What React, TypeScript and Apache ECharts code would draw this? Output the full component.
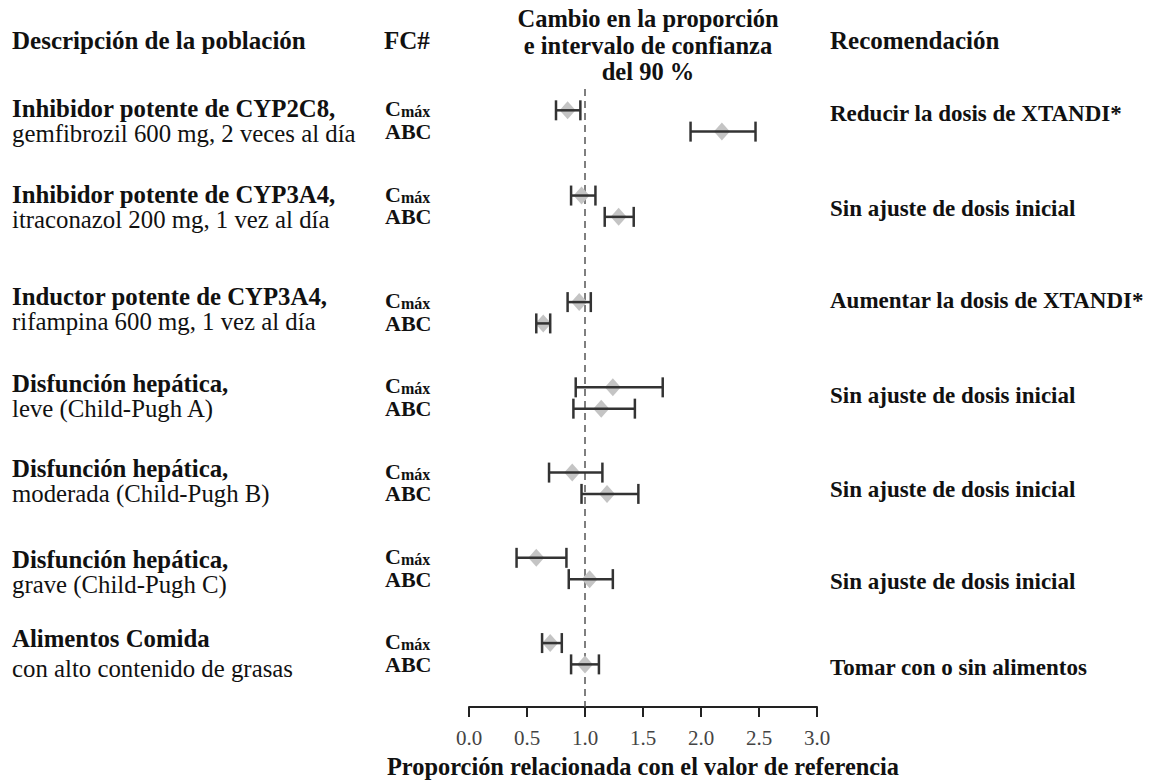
import React, { useEffect, useRef } from 'react';
import * as echarts from 'echarts';

const SERIF = '"Liberation Serif", "Times New Roman", "DejaVu Serif", serif';

// Population groups (left column) and recommendation (right column)
const groupTitles = [
  'Inhibidor potente de CYP2C8,',
  'Inhibidor potente de CYP3A4,',
  'Inductor potente de CYP3A4,',
  'Disfunción hepática,',
  'Disfunción hepática,',
  'Disfunción hepática,',
  'Alimentos Comida',
];
const groupDetails = [
  'gemfibrozil 600 mg, 2 veces al día',
  'itraconazol 200 mg, 1 vez al día',
  'rifampina 600 mg, 1 vez al día',
  'leve (Child-Pugh A)',
  'moderada (Child-Pugh B)',
  'grave (Child-Pugh C)',
  'con alto contenido de grasas',
];
const recommendations = [
  'Reducir la dosis de XTANDI*',
  'Sin ajuste de dosis inicial',
  'Aumentar la dosis de XTANDI*',
  'Sin ajuste de dosis inicial',
  'Sin ajuste de dosis inicial',
  'Sin ajuste de dosis inicial',
  'Tomar con o sin alimentos',
];

// Ratio and 90 % confidence interval, Cmáx
const cmaxEst = [0.85, 0.97, 0.95, 1.24, 0.89, 0.58, 0.70];
const cmaxLo = [0.75, 0.88, 0.85, 0.92, 0.69, 0.41, 0.63];
const cmaxHi = [0.96, 1.09, 1.05, 1.67, 1.15, 0.84, 0.80];
// Ratio and 90 % confidence interval, ABC
const abcEst = [2.18, 1.29, 0.64, 1.14, 1.19, 1.04, 1.00];
const abcLo = [1.91, 1.17, 0.58, 0.90, 0.97, 0.86, 0.88];
const abcHi = [2.47, 1.42, 0.70, 1.43, 1.46, 1.24, 1.12];

const referenceRatio = 1.0;
const xMin = 0;
const xMax = 3;
const xStep = 0.5;

// Blank row slots placed before each Cmáx/ABC pair and after the last one
const gapsBefore = [1, 2, 3, 2, 2, 2, 2];
const gapsAfter = 2;

// Text layout (pixel centres)
const LAYOUT = {
  leftX: 12,
  fcX: 384,
  recX: 830,
  headerY: 40,
  titleY: [108, 194, 296, 383, 468, 559, 638],
  detailY: [133, 219, 321, 408, 493, 584, 668],
  recY: [113, 208, 300, 395, 489, 581, 667],
};

function buildRows() {
  const cats: string[] = [];
  const pairs: { cmax: number; abc: number }[] = [];
  groupTitles.forEach((_, g) => {
    for (let i = 0; i < gapsBefore[g]; i++) cats.push(`gap-${g}-${i}`);
    pairs.push({ cmax: cats.length, abc: cats.length + 1 });
    cats.push(`cmax-${g}`);
    cats.push(`abc-${g}`);
  });
  for (let i = 0; i < gapsAfter; i++) cats.push(`gap-end-${i}`);
  return { cats, pairs };
}

function text(x: number, y: number, str: string, size: number, bold: boolean, align = 'left', lineHeight?: number) {
  return {
    type: 'text',
    x,
    y,
    silent: true,
    style: {
      text: str,
      fill: '#111',
      fontFamily: SERIF,
      fontSize: size,
      fontWeight: bold ? 'bold' : 'normal',
      textAlign: align,
      textVerticalAlign: 'middle',
      lineHeight: lineHeight ?? Math.round(size * 1.1),
    },
  };
}

export default function App() {
  const ref = useRef<HTMLDivElement>(null);

  useEffect(() => {
    if (!ref.current) return;
    const chart = echarts.init(ref.current, undefined, { renderer: 'svg' });
    const { cats, pairs } = buildRows();

    const intervals: number[][] = [];
    groupTitles.forEach((_, g) => {
      intervals.push([pairs[g].cmax, cmaxEst[g], cmaxLo[g], cmaxHi[g]]);
      intervals.push([pairs[g].abc, abcEst[g], abcLo[g], abcHi[g]]);
    });

    const graphics: any[] = [
      text(LAYOUT.leftX, LAYOUT.headerY, 'Descripción de la población', 25, true),
      text(LAYOUT.fcX, LAYOUT.headerY, 'FC#', 25, true),
      text(LAYOUT.recX, LAYOUT.headerY, 'Recomendación', 25, true),
      text(648, 18, 'Cambio en la proporción', 24.5, true, 'center', 25),
      text(648, 45, 'e intervalo de confianza', 24.5, true, 'center', 25),
      text(648, 71, 'del 90 %', 24.5, true, 'center', 25),
      text(643, 766, 'Proporción relacionada con el valor de referencia', 24.4, true, 'center'),
    ];
    groupTitles.forEach((t, g) => {
      graphics.push(text(LAYOUT.leftX, LAYOUT.titleY[g], t, 24.8, true, 'left', 20));
      graphics.push(text(LAYOUT.leftX, LAYOUT.detailY[g], groupDetails[g], 24.8, false, 'left', 20));
      graphics.push(text(LAYOUT.recX, LAYOUT.recY[g], recommendations[g], 23, true));
    });

    chart.setOption({
      animation: false,
      backgroundColor: '#fff',
      grid: { left: 469, right: 334, top: 89, bottom: 75, containLabel: false },
      xAxis: {
        type: 'value',
        min: xMin,
        max: xMax,
        interval: xStep,
        splitLine: { show: false },
        axisLine: { show: true, lineStyle: { color: '#222', width: 2 } },
        axisTick: { show: true, length: 10, lineStyle: { color: '#222', width: 2 } },
        axisLabel: {
          margin: 20,
          color: '#444',
          fontFamily: SERIF,
          fontSize: 21,
          formatter: (v: number) => v.toFixed(1),
        },
      },
      yAxis: {
        type: 'category',
        data: cats,
        inverse: true,
        boundaryGap: false,
        axisLine: { show: false },
        axisTick: { show: false },
        splitLine: { show: false },
        axisLabel: {
          interval: 0,
          align: 'left',
          margin: 469 - LAYOUT.fcX - 1,
          formatter: (v: string) =>
            v.startsWith('cmax') ? '{c|C}{s|máx}' : v.startsWith('abc') ? '{b|ABC}' : '',
          rich: {
            c: { fontFamily: SERIF, fontSize: 22, fontWeight: 'bold', color: '#111', lineHeight: 19, verticalAlign: 'bottom' },
            s: { fontFamily: SERIF, fontSize: 16, fontWeight: 'bold', color: '#111', lineHeight: 19, verticalAlign: 'bottom' },
            b: { fontFamily: SERIF, fontSize: 22, fontWeight: 'bold', color: '#111', lineHeight: 19 },
          },
        },
      },
      graphic: graphics,
      series: [
        {
          type: 'line',
          z: 1,
          symbol: 'none',
          silent: true,
          data: [
            [referenceRatio, 0],
            [referenceRatio, cats.length - 1],
          ],
          lineStyle: { color: '#555', width: 1.5, type: [7, 5] },
        },
        {
          type: 'custom',
          z: 3,
          silent: true,
          encode: { x: [1, 2, 3], y: 0 },
          data: intervals,
          renderItem: (params: any, api: any) => {
            const row = api.value(0);
            const [xe, y] = api.coord([api.value(1), row]);
            const xl = api.coord([api.value(2), row])[0];
            const xh = api.coord([api.value(3), row])[0];
            const stroke = { stroke: '#333', lineWidth: 2.5 };
            return {
              type: 'group',
              children: [
                {
                  type: 'polygon',
                  shape: { points: [[xe, y - 9], [xe + 8, y], [xe, y + 9], [xe - 8, y]] },
                  style: { fill: '#c4c4c4' },
                },
                { type: 'line', shape: { x1: xl, y1: y, x2: xh, y2: y }, style: stroke },
                { type: 'line', shape: { x1: xl, y1: y - 10, x2: xl, y2: y + 10 }, style: stroke },
                { type: 'line', shape: { x1: xh, y1: y - 10, x2: xh, y2: y + 10 }, style: stroke },
              ],
            };
          },
        },
      ],
    });

    return () => chart.dispose();
  }, []);

  return (
    <div
      ref={ref}
      style={{ position: 'fixed', left: 0, top: 0, width: 1151, height: 782, background: '#fff' }}
    />
  );
}
